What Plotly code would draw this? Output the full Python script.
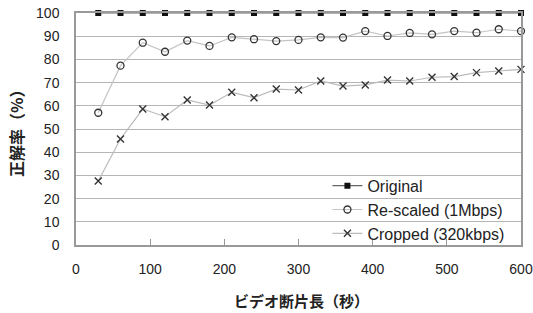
import plotly.graph_objects as go

x_sec = [30, 60, 90, 120, 150, 180, 210, 240, 270, 300, 330, 360, 390, 420, 450, 480, 510, 540, 570, 600]
original = [100] * 20
rescaled = [57.0, 77.3, 87.2, 83.3, 88.1, 85.8, 89.5, 88.7, 87.9, 88.4, 89.5, 89.4, 92.2, 90.1, 91.4, 90.8, 92.2, 91.5, 93.0, 92.2]
cropped = [27.6, 45.7, 58.6, 55.3, 62.5, 60.3, 65.8, 63.5, 67.2, 66.8, 70.7, 68.5, 69.0, 71.1, 70.7, 72.3, 72.6, 74.3, 75.0, 75.7]

x_ticks = [0, 100, 200, 300, 400, 500, 600]
y_ticks = list(range(0, 101, 10))

x_title = "ビデオ断片長（秒）"
y_title = "正解率（%）"

font_lat = "Liberation Sans, Arial, sans-serif"
font_jp = "Noto Sans CJK JP, sans-serif"

fig = go.Figure()
fig.add_trace(go.Scatter(
    x=x_sec, y=original, name="Original", mode="lines+markers",
    line=dict(color="#666666", width=1.2),
    marker=dict(symbol="square", size=6, color="#111111"),
    cliponaxis=False))
fig.add_trace(go.Scatter(
    x=x_sec, y=rescaled, name="Re-scaled (1Mbps)", mode="lines+markers",
    line=dict(color="#c4c4c4", width=1.2),
    marker=dict(symbol="circle-open", size=7, color="#333333", line=dict(width=1.3)),
    cliponaxis=False))
fig.add_trace(go.Scatter(
    x=x_sec, y=cropped, name="Cropped (320kbps)", mode="lines+markers",
    line=dict(color="#bbbbbb", width=1.2),
    marker=dict(symbol="x-thin-open", size=7, color="#333333", line=dict(width=1.4, color="#333333")),
    cliponaxis=False))

# white legend background area
fig.add_shape(type="rect", xref="paper", yref="paper", x0=0.52, x1=1, y0=0, y1=0.345,
              fillcolor="white", line=dict(width=0), layer="between")

fig.add_annotation(text=x_title, xref="paper", yref="paper", x=0.506, y=-0.241,
                   xanchor="center", yanchor="middle", showarrow=False,
                   font=dict(family=font_jp, size=15, color="#222222", weight="bold"))
fig.add_annotation(text=y_title, xref="paper", yref="paper", x=-0.135, y=0.5,
                   xanchor="center", yanchor="middle", showarrow=False, textangle=-90,
                   font=dict(family=font_jp, size=16, color="#222222", weight="bold"))

fig.update_layout(
    width=533, height=313,
    margin=dict(l=76, r=12, t=13, b=68),
    paper_bgcolor="white", plot_bgcolor="white",
    font=dict(family=font_lat, size=14, color="#222222"),
    showlegend=True,
    legend=dict(x=0.565, y=-0.025, xanchor="left", yanchor="bottom",
                bgcolor="rgba(0,0,0,0)", font=dict(family=font_lat, size=16, color="#222222"),
                tracegroupgap=0, itemwidth=30),
    xaxis=dict(range=[0, 600], tickvals=x_ticks, ticks="inside", ticklen=6, tickcolor="#999999",
               showgrid=False, showline=True, linecolor="#999999", linewidth=1.5, mirror=True,
               zeroline=False, ticklabelstandoff=10, automargin=False),
    yaxis=dict(range=[0, 100], tickvals=y_ticks, ticks="", showgrid=True, gridcolor="#b5b5b5", gridwidth=1.2,
               showline=True, linecolor="#999999", linewidth=1.5, mirror=True, zeroline=False,
               ticklabelstandoff=12, automargin=False),
)

fig.write_html("out.html", config={"displayModeBar": False},
               post_script="document.body.style.margin='0';document.body.style.overflow='hidden';")
